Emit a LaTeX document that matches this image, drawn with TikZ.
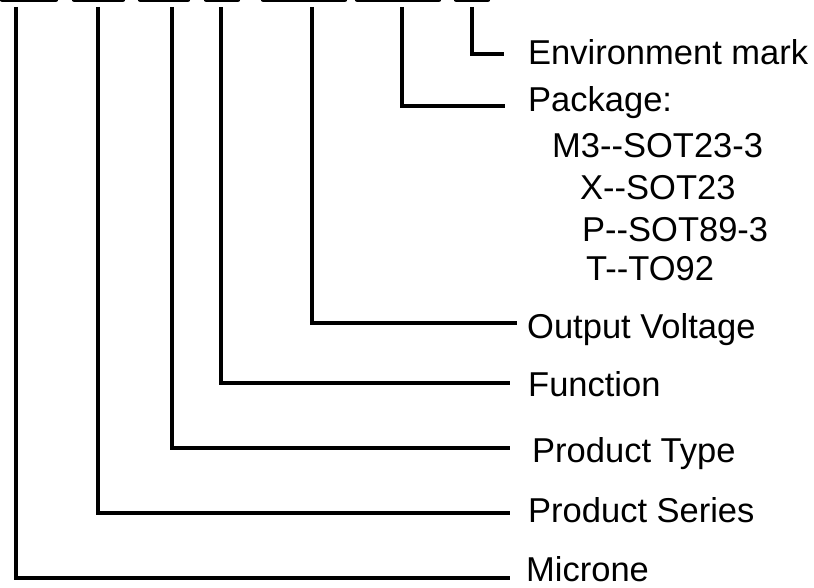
\documentclass[tikz,border=0pt]{standalone}
\usepackage{fontspec}
\setmainfont{Liberation Sans}
\newcommand{\dd}{-\kern0pt-}
\tikzset{
  lbl/.style={anchor=base west, inner sep=0pt, font=\fontsize{34.5}{40}\selectfont},
  wire/.style={line width=3.3pt, line join=miter},
  bar/.style={line width=4.5pt, line cap=round}
}
\begin{document}
\begin{tikzpicture}[x=1pt,y=-1pt]
\path[use as bounding box] (0,0) rectangle (814,588);
\clip (0,0) rectangle (814,588);
% top bars
\foreach \a/\b [count=\i] in {2/56, 74/123, 140/188, 206/238, 263/345, 357/439, 456/488}{
  \coordinate (bl\i) at (\a,-0.5);
  \coordinate (br\i) at (\b,-0.5);
  \draw[bar] (bl\i) -- (br\i);
}
% labels
\node[lbl] (env) at (528,65) {Environment mark};
\node[lbl] (pkg) at (528,112) {Package:};
\node[lbl] (m3) at (552,158) {M3\dd SOT23-3};
\node[lbl] (x) at (580,200) {X\dd SOT23};
\node[lbl] (p) at (582,241) {P\dd SOT89-3};
\node[lbl] (t) at (586,280) {T\dd TO92};
\node[lbl] (out) at (527,338) {Output Voltage};
\node[lbl] (fun) at (528,396) {Function};
\node[lbl] (typ) at (532,462) {Product Type};
\node[lbl] (ser) at (528,522) {Product Series};
\node[lbl] (mic) at (526,581) {Microne};
% connector start points (below bars) and end points (before labels)
\coordinate (s1) at (16,7);   \coordinate (e1) at (510,578);
\coordinate (s2) at (98,7);   \coordinate (e2) at (510,513);
\coordinate (s3) at (172,7);  \coordinate (e3) at (510,448);
\coordinate (s4) at (221,7);  \coordinate (e4) at (510,383);
\coordinate (s5) at (312,7);  \coordinate (e5) at (517,323);
\coordinate (s6) at (402,7);  \coordinate (e6) at (505,106);
\coordinate (s7) at (472,7);  \coordinate (e7) at (504,54);
\foreach \i in {1,...,7}{
  \draw[wire] (s\i) |- (e\i);
}
\end{tikzpicture}
\end{document}
